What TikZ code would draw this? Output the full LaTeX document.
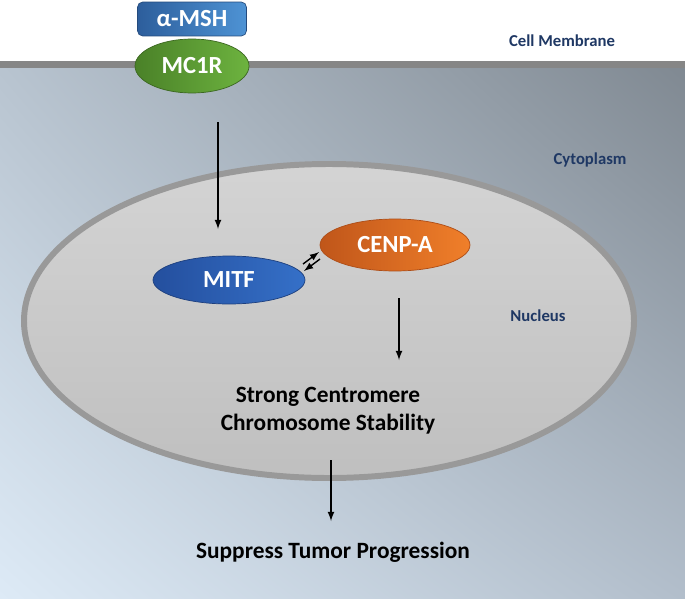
\documentclass[tikz,border=0pt]{standalone}
\usepackage{fontspec}
\setmainfont{Carlito}
\usetikzlibrary{shapes.geometric,shadings}

\definecolor{navy}{HTML}{1F3864}
\definecolor{cytoul}{HTML}{B8C4D0}
\definecolor{cytour}{HTML}{808992}
\definecolor{cytoll}{HTML}{DDEAF6}
\definecolor{cytolr}{HTML}{B2BECB}
\definecolor{mshdark}{HTML}{2D5E9C}
\definecolor{mshlight}{HTML}{4E93D4}
\definecolor{mcdark}{HTML}{4A8128}
\definecolor{mclight}{HTML}{6DB33F}
\definecolor{mitfdark}{HTML}{244F9E}
\definecolor{mitflight}{HTML}{3570C8}
\definecolor{cenpdark}{HTML}{C0561A}
\definecolor{cenplight}{HTML}{F07F2A}

\tikzset{
  blob/.style={ellipse,text=white,font=\bfseries\fontsize{14}{16}\selectfont,inner sep=0pt},
  region/.style={text=navy,font=\bfseries\fontsize{9.5}{11}\selectfont},
  result/.style={text=black,font=\bfseries\fontsize{13.3}{16}\selectfont,align=center},
  flow/.style={-latex,thick}
}

\begin{document}
\begin{tikzpicture}[x=0.02cm,y=-0.02cm]
\useasboundingbox (0,0) rectangle (685,598);
% background
\fill[white] (0,0) rectangle (685,62);
\shade[upper left=cytoul,upper right=cytour,lower left=cytoll,lower right=cytolr]
  (0,68) rectangle (685,598);
\fill[gray!95] (0,61) rectangle (685,68);
% nucleus
\shade[top color=black!17,bottom color=black!25,draw=black!40,line width=3.4pt]
  (329,321) ellipse [x radius=305,y radius=157];

\node[region] (membrane) at (562,41) {Cell Membrane};
\node[region] (cyto) at (590,160) {Cytoplasm};
\node[region] (nucleus) at (538,316) {Nucleus};

\node[rounded corners=3pt,draw=mshdark!80!black,left color=mshdark,right color=mshlight,
  minimum width=2.18cm,minimum height=0.68cm,text=white,font=\bfseries\fontsize{14}{16}\selectfont]
  (msh) at (192,19) {α-MSH};
\node[blob,draw=mcdark!80!black,left color=mcdark,right color=mclight,
  minimum width=2.28cm,minimum height=1.08cm] (mc1r) at (192,66) {MC1R};

\node[blob,draw=mitfdark!80!black,left color=mitfdark,right color=mitflight,
  minimum width=3.04cm,minimum height=0.96cm] (mitf) at (229,280) {MITF};
\node[blob,draw=cenpdark!90!black,left color=cenpdark,right color=cenplight,
  minimum width=3.0cm,minimum height=1.04cm] (cenp) at (395,245) {CENP-A};

\node[result] (stab) at (328,411) {Strong Centromere\\Chromosome Stability};
\node[result] (tumor) at (333,552) {Suppress Tumor Progression};

% arrows
\coordinate (a1) at (218,122);
\coordinate (a2) at (218,229);
\draw[flow] (a1) -- (a2);
\coordinate (b1) at (303,264);
\coordinate (b2) at (319,252);
\draw[flow] (b1) -- (b2);
\coordinate (c1) at (320,259);
\coordinate (c2) at (304,271);
\draw[flow] (c1) -- (c2);
\coordinate (d1) at (399,298);
\coordinate (d2) at (399,360);
\draw[flow] (d1) -- (d2);
\coordinate (e1) at (331,460);
\coordinate (e2) at (331,521);
\draw[flow] (e1) -- (e2);
\end{tikzpicture}
\end{document}
